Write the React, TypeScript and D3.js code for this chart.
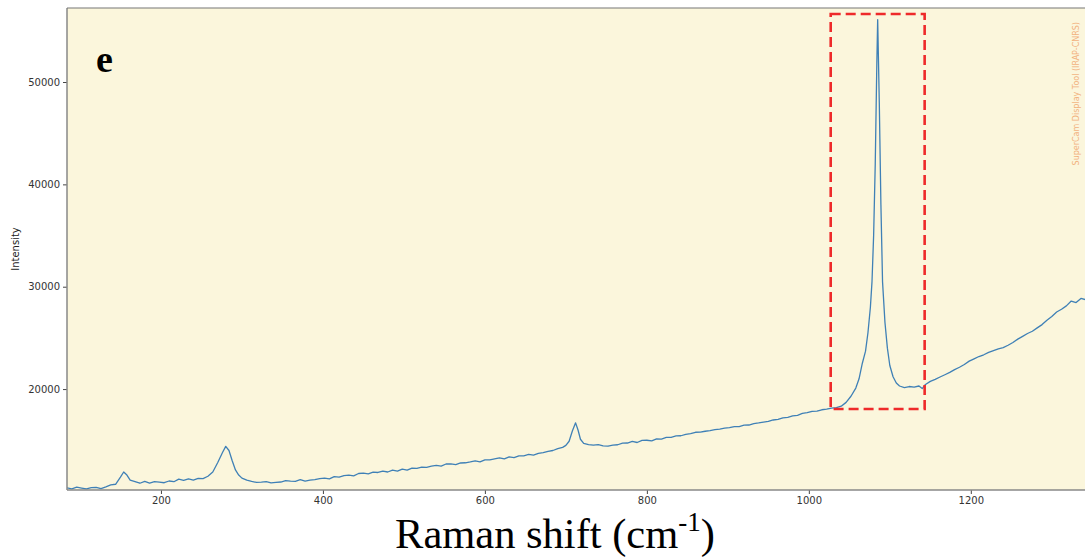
import * as d3 from 'd3';
import { useEffect, useRef } from 'react';

// Raman shift (cm-1) and intensity
const shifts = [
  84, 90, 96, 102, 108, 114, 120, 126, 132, 138, 144, 150, 154, 158, 162, 168, 174, 180, 186, 192,
  198, 204, 210, 216, 222, 228, 234, 240, 246, 252, 258, 264, 270, 276, 280, 284, 288, 292, 296, 300,
  306, 312, 318, 324, 330, 336, 342, 348, 354, 360, 366, 372, 378, 384, 390, 396, 402, 408, 414, 420,
  426, 432, 438, 444, 450, 456, 462, 468, 474, 480, 486, 492, 498, 504, 510, 516, 522, 528, 534, 540,
  546, 552, 558, 564, 570, 576, 582, 588, 594, 600, 606, 612, 618, 624, 630, 636, 642, 648, 654, 660,
  666, 672, 678, 684, 690, 696, 700, 704, 708, 712, 715, 718, 722, 728, 734, 740, 746, 752, 758, 764,
  770, 776, 782, 788, 794, 800, 806, 812, 818, 824, 830, 836, 842, 848, 854, 860, 866, 872, 878, 884,
  890, 896, 902, 908, 914, 920, 926, 932, 938, 944, 950, 956, 962, 968, 974, 980, 986, 992, 998, 1004,
  1010, 1016, 1022, 1028, 1034, 1040, 1046, 1052, 1058, 1062, 1066, 1070, 1073, 1076, 1078, 1080, 1082, 1084, 1085, 1087,
  1089, 1091, 1094, 1097, 1100, 1104, 1108, 1112, 1118, 1124, 1130, 1136, 1140, 1144, 1150, 1156, 1162, 1168, 1174, 1180,
  1186, 1192, 1198, 1204, 1210, 1216, 1222, 1228, 1234, 1240, 1246, 1252, 1258, 1264, 1270, 1276, 1282, 1288, 1294, 1300,
  1306, 1312, 1318, 1324, 1330, 1336, 1341,
];

const intensities = [
  10350, 10250, 10420, 10330, 10250, 10380, 10400, 10280, 10450, 10650, 10700, 11400, 11900, 11600, 11100, 10950, 10800, 10980, 10820, 10950,
  10900, 10850, 11020, 10950, 11200, 11080, 11220, 11100, 11280, 11250, 11480, 11900, 12800, 13800, 14400, 14000, 13000, 12100, 11600, 11300,
  11100, 10980, 10880, 10900, 10950, 10830, 10880, 10920, 11050, 11000, 10980, 11150, 11000, 11100, 11150, 11250, 11300, 11220, 11450, 11400,
  11550, 11600, 11520, 11750, 11780, 11720, 11880, 11850, 11980, 11900, 12080, 11980, 12180, 12080, 12280, 12250, 12380, 12350, 12480, 12550,
  12480, 12680, 12700, 12620, 12780, 12800, 12880, 12980, 12880, 13080, 13080, 13180, 13280, 13180, 13380, 13300, 13480, 13480, 13620, 13550,
  13720, 13800, 13920, 14000, 14180, 14300, 14500, 14900, 15900, 16700, 16000, 15100, 14700, 14580, 14520, 14580, 14450, 14420, 14520, 14560,
  14720, 14730, 14880, 14780, 14980, 15000, 14930, 15130, 15120, 15280, 15290, 15420, 15440, 15580, 15640, 15780, 15790, 15880, 15940, 16030,
  16090, 16180, 16240, 16330, 16340, 16480, 16490, 16630, 16690, 16780, 16840, 16980, 17040, 17180, 17240, 17380, 17440, 17630, 17690, 17830,
  17840, 17980, 18040, 18130, 18190, 18330, 18700, 19300, 20100, 21000, 22500, 23700, 25500, 28000, 30500, 35000, 42000, 52000, 56100, 48000,
  38000, 30500, 26500, 24000, 22300, 21200, 20600, 20300, 20150, 20250, 20200, 20300, 20050, 20450, 20750, 20950, 21180, 21400, 21630, 21900,
  22130, 22400, 22730, 22950, 23180, 23350, 23580, 23750, 23930, 24050, 24280, 24550, 24880, 25150, 25430, 25650, 25980, 26300, 26730, 27100,
  27530, 27800, 28130, 28600, 28450, 28850, 28750,
];

const xTicks = [200, 400, 600, 800, 1000, 1200];
const yTicks = [20000, 30000, 40000, 50000];

// highlighted region around the main peak
const boxShift = [1027, 1143];
const boxIntensity = [18050, 56640];

const W = 1085;
const H = 559;

export default function App() {
  const ref = useRef<SVGSVGElement>(null);

  useEffect(() => {
    drawChart();
  }, []);

  const drawChart = () => {
    const margin = { top: 8, right: 0, bottom: 69, left: 67 };
    const width = W - margin.left - margin.right;
    const height = H - margin.top - margin.bottom;

    const root = d3.select(ref.current);
    root.selectAll('*').remove();

    const svg = root.append('g').attr('transform', `translate(${margin.left},${margin.top})`);

    const x = d3.scaleLinear().domain([84, 1341]).range([0, width]);
    const y = d3.scaleLinear().domain([10140, 57230]).range([height, 0]);

    svg
      .append('rect')
      .attr('width', width)
      .attr('height', height)
      .style('fill', '#fbf6dc');

    svg
      .append('clipPath')
      .attr('id', 'plotClip')
      .append('rect')
      .attr('width', width)
      .attr('height', height);

    const data = shifts.map((s, i) => ({ s, v: intensities[i] }));

    const line = d3
      .line<{ s: number; v: number }>()
      .x((d) => x(d.s))
      .y((d) => y(d.v));

    svg
      .append('path')
      .datum(data)
      .attr('clip-path', 'url(#plotClip)')
      .attr('d', line)
      .style('fill', 'none')
      .style('stroke', '#3f80b6')
      .style('stroke-width', '1.3px')
      .style('stroke-linejoin', 'round');

    // dashed box
    svg
      .append('rect')
      .attr('x', x(boxShift[0]))
      .attr('y', y(boxIntensity[1]))
      .attr('width', x(boxShift[1]) - x(boxShift[0]))
      .attr('height', y(boxIntensity[0]) - y(boxIntensity[1]))
      .style('fill', 'none')
      .style('stroke', '#ee2a2a')
      .style('stroke-width', '2.6px')
      .style('stroke-dasharray', '10 5');

    const fmt = d3.format('d');
    const xAxis = svg
      .append('g')
      .attr('transform', `translate(0,${height})`)
      .call(d3.axisBottom(x).tickValues(xTicks).tickFormat(fmt).tickSize(4).tickPadding(3));
    const yAxis = svg
      .append('g')
      .call(d3.axisLeft(y).tickValues(yTicks).tickFormat(fmt).tickSize(4).tickPadding(3));

    [xAxis, yAxis].forEach((a) => {
      a.select('.domain').remove();
      a.selectAll('line').style('stroke', '#444').style('stroke-width', '1px');
      a.selectAll('text')
        .style('font-size', '10px')
        .style('font-family', 'DejaVu Sans, sans-serif')
        .style('fill', '#333');
    });

    // frame
    svg
      .append('line')
      .attr('x1', 0).attr('x2', 0).attr('y1', 0).attr('y2', height)
      .style('stroke', '#888').style('stroke-width', '1.5px');
    svg
      .append('line')
      .attr('x1', 0).attr('x2', width).attr('y1', height).attr('y2', height)
      .style('stroke', '#888').style('stroke-width', '1.5px');
    svg
      .append('line')
      .attr('x1', 0).attr('x2', width).attr('y1', 0).attr('y2', 0)
      .style('stroke', '#777').style('stroke-width', '1.2px');

    svg
      .append('text')
      .attr('transform', `translate(${1076 - margin.left},14) rotate(-90)`)
      .attr('dy', '0.35em')
      .style('text-anchor', 'end')
      .style('font-size', '8px')
      .style('font-family', 'DejaVu Sans, sans-serif')
      .style('fill', '#f2b27e')
      .text('SuperCam Display Tool (IRAP-CNRS)');

    svg
      .append('text')
      .attr('x', 96 - margin.left)
      .attr('y', 72 - margin.top)
      .style('font-size', '38px')
      .style('font-weight', 'bold')
      .style('font-family', 'Liberation Serif, serif')
      .style('fill', '#000')
      .text('e');

    root
      .append('text')
      .attr('transform', `translate(19,249) rotate(-90)`)
      .style('text-anchor', 'middle')
      .style('font-size', '10px')
      .style('font-family', 'DejaVu Sans, sans-serif')
      .style('fill', '#222')
      .text('Intensity');

    const xl = root
      .append('text')
      .attr('x', 555)
      .attr('y', 548)
      .style('text-anchor', 'middle')
      .style('font-size', '42.5px')
      .style('font-family', 'Liberation Serif, serif')
      .style('fill', '#000');
    xl.append('tspan').text('Raman shift (cm');
    xl.append('tspan').attr('dy', -17).style('font-size', '27px').text('-1');
    xl.append('tspan').attr('dy', 17).text(')');
  };

  return (
    <svg
      ref={ref}
      width={W}
      height={H}
      style={{ position: 'absolute', left: 0, top: 0, background: '#fff' }}
    />
  );
}
